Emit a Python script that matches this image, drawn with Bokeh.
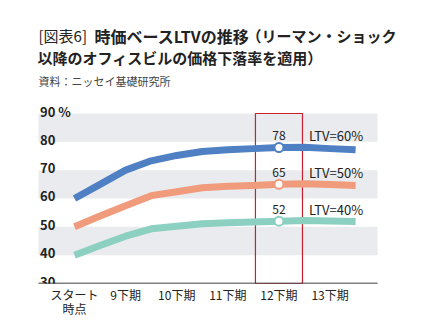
from bokeh.plotting import figure
from bokeh.models import Range1d, FixedTicker
from bokeh.layouts import column
from bokeh.core.properties import value
from bokeh.embed import file_html
from bokeh.resources import INLINE

# ---------------- data ----------------
periods = ["スタート時点", "9上期", "9下期", "10上期", "10下期", "11上期",
           "11下期", "12上期", "12下期", "13上期", "13下期", "14上期"]
ltv60 = [60.0, 65.0, 70.0, 73.3, 75.2, 76.6, 77.2, 77.6, 78.0, 78.1, 77.6, 77.2]
ltv50 = [50.0, 53.8, 57.4, 61.0, 62.4, 63.8, 64.3, 64.6, 65.0, 65.2, 64.9, 64.6]
ltv40 = [40.0, 43.4, 46.7, 49.3, 50.2, 51.1, 51.4, 51.7, 52.0, 52.2, 52.1, 51.9]
series_names = ["LTV=60%", "LTV=50%", "LTV=40%"]
highlight_period = "12下期"
y_ticks = [30, 40, 50, 60, 70, 80, 90]
y_tick_labels = ["30", "40", "50", "60", "70", "80", "90 %"]
bands = [(40, 50), (60, 70), (80, 90)]
title_tag = "[図表6]"
title_1a = "時価ベースLTVの推移"
title_1b = "（リーマン・ショック"
title_2 = "以降のオフィスビルの価格下落率を適用）"
source_text = "資料：ニッセイ基礎研究所"

# ---------------- style ----------------
W, H = 430, 332
TOP_H = 95
FB = 49
FONT = "Noto Sans CJK JP"
colors = ["#4f80c3", "#f09b7c", "#8bd0c1"]
band_color = "#e9ebee"
red = "#c8202f"
txt = "#222222"
# visible plot area (in period-index units) inside a full-width frame
AREA_X0, AREA_X1 = -1.41, 11.86
VIEW_X0, VIEW_X1 = -2.896, 13.93

x_idx = list(range(len(periods)))
tick_idx = [i for i, n in enumerate(periods) if i == 0 or n.endswith("下期")]
tick_text = {i: ("スタート\n時点" if i == 0 else periods[i]) for i in tick_idx}
hi = periods.index(highlight_period)

# ---------------- header (titles) ----------------
top = figure(width=W, height=TOP_H, output_backend="svg", toolbar_location=None,
             x_range=Range1d(0, W), y_range=Range1d(TOP_H, 0),
             x_axis_location=None, y_axis_location=None, min_border=0)
top.grid.visible = False
top.outline_line_color = None


def head(x, y, s, size, bold=True, color=txt):
    top.text(x=[x], y=[y], text=[s], text_font=value(FONT), text_font_size=size,
             text_font_style="bold" if bold else "normal", text_color=color,
             text_baseline="middle", text_align="left")


head(38, 35, title_tag, "15px", bold=False)
head(94, 35, title_1a, "16px")
head(246, 35, title_1b, "15px")
head(37, 57, title_2, "15px")
head(38, 80, source_text, "11px", bold=False, color="#444444")

# ---------------- chart ----------------
p = figure(width=W, height=H - TOP_H, output_backend="svg", toolbar_location=None,
           x_range=Range1d(VIEW_X0, VIEW_X1), y_range=Range1d(30, 96.35),
           y_axis_location=None,
           min_border_left=0, min_border_right=0,
           min_border_top=0, min_border_bottom=FB)
p.outline_line_color = None
p.grid.visible = False

xa = p.xaxis[0]
xa.ticker = FixedTicker(ticks=tick_idx)
xa.major_label_overrides = tick_text
xa.major_tick_line_color = None
xa.minor_tick_line_color = None
xa.axis_line_color = None
xa.major_label_text_font = FONT
xa.major_label_text_font_size = "12px"
xa.major_label_text_color = txt
xa.major_label_text_line_height = 0.85
xa.major_label_standoff = -4

p.quad(left=[AREA_X0] * len(bands), right=[AREA_X1] * len(bands),
       bottom=[b[0] for b in bands], top=[b[1] for b in bands],
       fill_color=band_color, line_color=None)

p.text(x=[AREA_X0] * len(y_ticks), y=y_ticks, text=y_tick_labels,
       text_font=value(FONT), text_font_style="bold", text_font_size="13px",
       text_color=txt, text_baseline="alphabetic", text_align="left",
       x_offset=1.5, y_offset=-2)

p.quad(left=[hi - 0.92], right=[hi + 0.92], bottom=[y_ticks[0]], top=[y_ticks[-1]],
       fill_color=None, line_color=red, line_width=1.2)

# baseline axis line
p.segment(x0=[AREA_X0], y0=[y_ticks[0]], x1=[AREA_X1], y1=[y_ticks[0]],
          line_color="black", line_width=1.5)

for vals, c, name in zip([ltv60, ltv50, ltv40], colors, series_names):
    p.line(x_idx, vals, line_color=c, line_width=7, line_join="round")
    p.scatter([hi], [vals[hi]], size=9, fill_color="white", line_color=c, line_width=2)
    p.text(x=[hi], y=[vals[hi]], text=[f"{vals[hi]:.0f}"], text_font=value(FONT),
           text_font_size="12px", text_color=txt, text_align="center",
           text_baseline="middle", y_offset=-12)
    p.text(x=[hi], y=[vals[hi]], text=[name], text_font=value(FONT),
           text_font_size="13px", text_color=txt, text_align="left",
           text_baseline="middle", x_offset=30, y_offset=-12)

layout = column(top, p, spacing=0)
open("out.html", "w").write(file_html(layout, INLINE))
